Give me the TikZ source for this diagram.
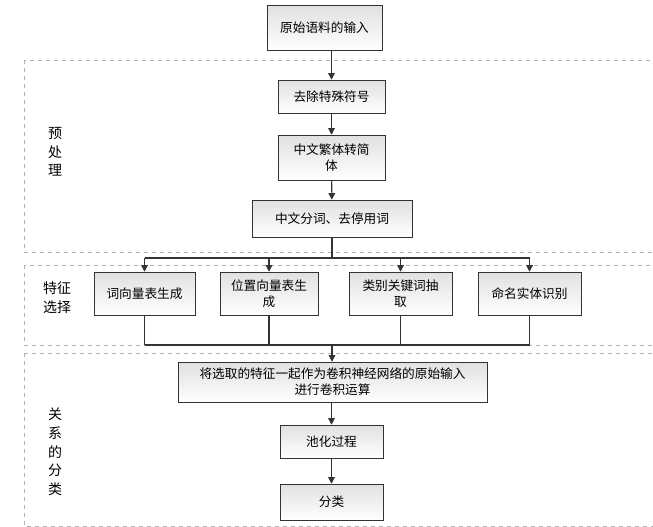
\documentclass[tikz,border=0pt]{standalone}
\usepackage{fontspec}
\setmainfont{Noto Sans CJK SC}
\usetikzlibrary{arrows.meta}
\begin{document}
\begin{tikzpicture}[x=0.75pt,y=-0.75pt,
  box/.style={draw=black!80,top color=black!12,bottom color=white,font=\fontsize{9.5}{12}\selectfont,align=center,inner sep=1pt},
  region/.style={draw=black!30,dashed},
  lab/.style={font=\fontsize{10.5}{14}\selectfont,align=center},
  arr/.style={draw=black!80,line width=0.8pt,-{Triangle[length=5pt,width=5pt]}},
  ln/.style={draw=black!80,line width=0.8pt}]
\useasboundingbox (0,0) rectangle (653,526);
\draw[region] (24,60) rectangle (653,252);
\draw[region] (24,265) rectangle (653,345);
\draw[region] (24,353) rectangle (653,526);
\node[lab] (l1) at (55,152) {预\\处\\理};
\node[lab] (l2) at (57,298) {特征\\选择};
\node[lab] (l3) at (55,452) {关\\系\\的\\分\\类};
\node[box,minimum width=115*0.75pt,minimum height=45*0.75pt] (b1) at (324.5,28) {原始语料的输入};
\node[box,minimum width=107*0.75pt,minimum height=33*0.75pt] (b2) at (331.5,96.5) {去除特殊符号};
\node[box,minimum width=107*0.75pt,minimum height=45*0.75pt] (b3) at (331.5,157.5) {中文繁体转简\\体};
\node[box,minimum width=160*0.75pt,minimum height=37*0.75pt] (b4) at (332,218.5) {中文分词、去停用词};
\node[box,minimum width=101*0.75pt,minimum height=43*0.75pt] (f1) at (144.5,293.5) {词向量表生成};
\node[box,minimum width=98*0.75pt,minimum height=43*0.75pt] (f2) at (269,293.5) {位置向量表生\\成};
\node[box,minimum width=103*0.75pt,minimum height=43*0.75pt] (f3) at (400.5,293.5) {类别关键词抽\\取};
\node[box,minimum width=103*0.75pt,minimum height=43*0.75pt] (f4) at (529.5,293.5) {命名实体识别};
\node[box,minimum width=309*0.75pt,minimum height=40*0.75pt] (c1) at (332.5,382) {将选取的特征一起作为卷积神经网络的原始输入\\进行卷积运算};
\node[box,minimum width=103*0.75pt,minimum height=33*0.75pt] (c2) at (331.5,441.5) {池化过程};
\node[box,minimum width=103*0.75pt,minimum height=36*0.75pt] (c3) at (331.5,502) {分类};
\draw[arr] (b2.north |- b1.south) -- (b2.north);
\draw[arr] (b2) -- (b3);
\draw[arr] (b3) -- (b4);
\coordinate (bus) at (332,258);
\draw[ln] (b4) -- (bus);
\draw[ln] (f1.north |- bus) -- (f4.north |- bus);
\foreach \f in {f1,f2,f3,f4}{\draw[arr] (\f.north |- bus) -- (\f.north);}
\coordinate (join) at (332,345);
\foreach \f in {f1,f2,f3,f4}{\draw[ln] (\f.south) -- (\f.south |- join);}
\draw[ln] (f1.south |- join) -- (f4.south |- join);
\draw[arr] (join) -- (c1.north -| join);
\draw[arr] (c2.north |- c1.south) -- (c2.north);
\draw[arr] (c2) -- (c3);
\end{tikzpicture}
\end{document}
